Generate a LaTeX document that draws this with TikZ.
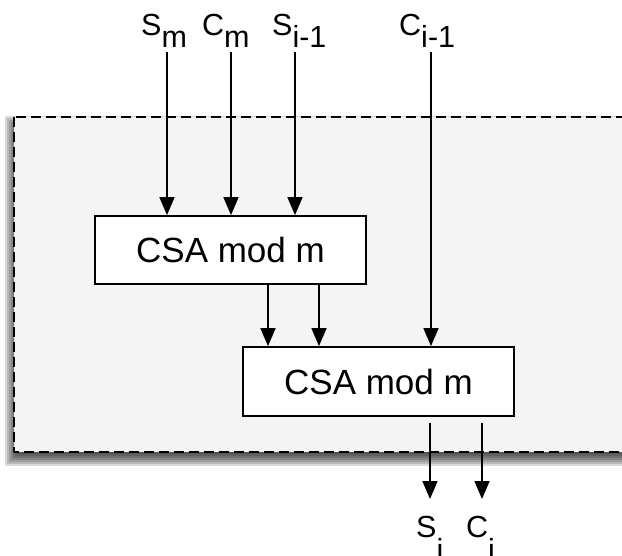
\documentclass[tikz,border=0pt]{standalone}
\usepackage{fontspec}
\setmainfont{Liberation Sans}
\usetikzlibrary{arrows.meta,calc}
\definecolor{panelgray}{HTML}{F4F4F4}
\begin{document}
\begin{tikzpicture}[x=1pt,y=-1pt,
  box/.style={draw,line width=1.8pt,fill=white,minimum width=271pt,minimum height=68pt,inner sep=0pt,font=\fontsize{35}{42}\selectfont},
  lbl/.style={inner sep=0pt,font=\fontsize{30.5}{36}\selectfont,anchor=base west},
  arr/.style={line width=1.8pt,-{Triangle[length=18pt,width=15pt]}},
  frame/.style={draw,line width=2.2pt,dash pattern=on 10pt off 5pt,fill=panelgray}]
\useasboundingbox (0,0) rectangle (622,556);
\clip (0,0) rectangle (622,556);
% shadow of the frame
\foreach \r in {0,...,7}
  \fill[black,opacity=0.15] (5+2*\r,116+2*\r) rectangle (660,466-2*\r);
% frame
\draw[frame] (14,117) rectangle (660,452);
% boxes
\node[box] (box1) at (230.5,250) {CSA mod m};
\node[box,minimum height=69pt] (box2) at (378.5,381.5) {CSA mod m};
% labels
\node[lbl] (sm) at (141,36) {S\raisebox{-12pt}{m}};
\node[lbl] (cm) at (202,36) {C\raisebox{-12pt}{m}};
\node[lbl] (si1) at (272,36) {S\raisebox{-12pt}{i-1}};
\node[lbl] (ci1) at (399,36) {C\raisebox{-12pt}{i-1}};
\node[lbl] (si) at (416,537) {S\raisebox{-23pt}{i}};
\node[lbl] (ci) at (466,537) {C\raisebox{-23pt}{i}};
% connector ends
\coordinate (a1) at (167,52);
\coordinate (a2) at (231,52);
\coordinate (a3) at (295,52);
\coordinate (a4) at (431,52);
\coordinate (m1) at ([xshift=37.5pt]box1.south);
\coordinate (m2) at ([xshift=88.5pt]box1.south);
\coordinate (o1) at (430,423);
\coordinate (o2) at (482,423);
\coordinate (o1e) at (430,499);
\coordinate (o2e) at (482,499);
% connectors
\draw[arr] (a1) -- (a1 |- box1.north);
\draw[arr] (a2) -- (a2 |- box1.north);
\draw[arr] (a3) -- (a3 |- box1.north);
\draw[arr] (a4) -- (a4 |- box2.north);
\draw[arr] (m1) -- (m1 |- box2.north);
\draw[arr] (m2) -- (m2 |- box2.north);
\draw[arr] (o1) -- (o1e);
\draw[arr] (o2) -- (o2e);
\end{tikzpicture}
\end{document}
